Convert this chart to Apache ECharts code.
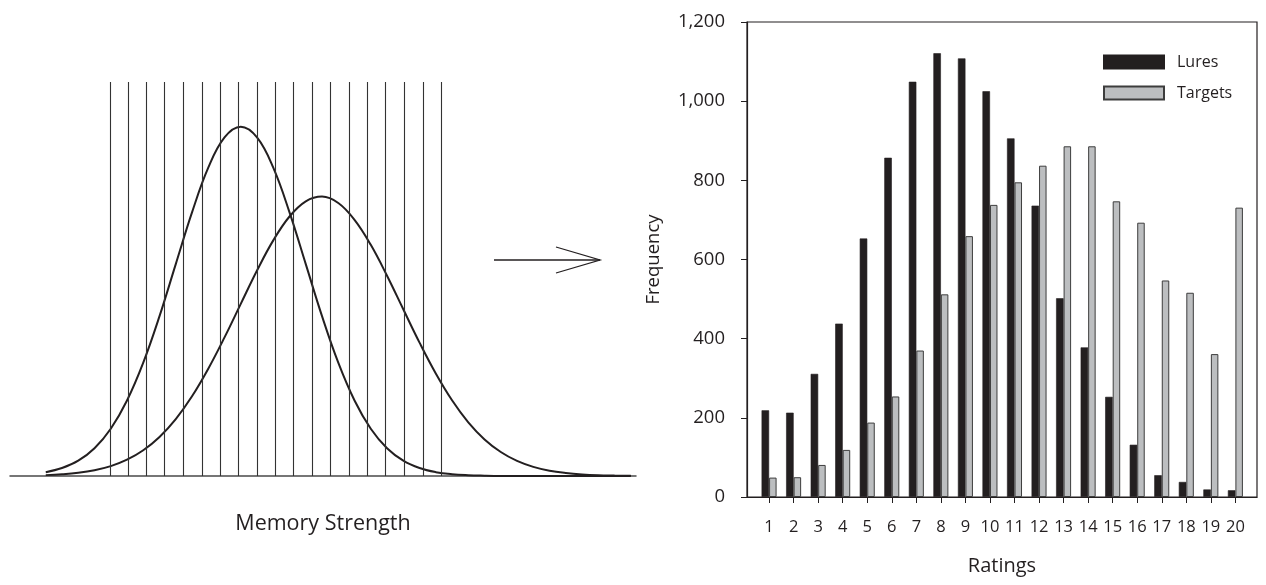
<!DOCTYPE html>
<html>
<head>
<meta charset="utf-8">
<title>Memory Strength / Ratings</title>
<script src="https://cdn.jsdelivr.net/npm/echarts@6/dist/echarts.min.js"></script>
<style>
  html, body { margin: 0; padding: 0; background: #fff; }
  #chart { width: 1266px; height: 585px; }
</style>
</head>
<body>
<div id="chart"></div>
<script>
// left panel: strength axis (z units) and the two density curves
const strength = [-3, -2.75, -2.5, -2.25, -2, -1.75, -1.5, -1.25, -1, -0.75, -0.5, -0.25, 0,
  0.25, 0.5, 0.75, 1, 1.25, 1.5, 1.75, 2, 2.25, 2.5, 2.75, 3, 3.25, 3.5, 3.75, 4,
  4.25, 4.5, 4.75, 5, 5.25, 5.5, 5.75, 6];
const lureDensity = [0.0044, 0.0091, 0.0175, 0.0317, 0.054, 0.0863, 0.1295, 0.1826, 0.242, 0.3011,
  0.3521, 0.3867, 0.3989, 0.3867, 0.3521, 0.3011, 0.242, 0.1826, 0.1295, 0.0863, 0.054, 0.0317,
  0.0175, 0.0091, 0.0044, 0.002, 0.0009, 0.0004, 0.0001, 0.00005, 0, 0, 0, 0, 0, 0, 0];
const targetDensity = [0.001, 0.002, 0.0037, 0.0066, 0.0113, 0.0186, 0.0294, 0.0446, 0.065, 0.091,
  0.1225, 0.1583, 0.1966, 0.2347, 0.2691, 0.2964, 0.3137, 0.3191, 0.3118, 0.2926, 0.264, 0.2287,
  0.1904, 0.1523, 0.1171, 0.0865, 0.0613, 0.0418, 0.0274, 0.0172, 0.0104, 0.006, 0.0034, 0.0018,
  0.0009, 0.0005, 0.0002];
const criteria = [-2.01, -1.73, -1.45, -1.17, -0.89, -0.6, -0.32, -0.04, 0.25, 0.53, 0.81,
  1.1, 1.38, 1.67, 1.95, 2.23, 2.51, 2.8, 3.09];

// right panel: rating frequencies
const ratings = [1, 2, 3, 4, 5, 6, 7, 8, 9, 10, 11, 12, 13, 14, 15, 16, 17, 18, 19, 20];
const lures = [219, 213, 311, 438, 653, 857, 1049, 1121, 1108, 1025, 906, 736, 502, 378, 253, 132, 55, 38, 19, 17];
const targets = [49, 50, 81, 119, 188, 254, 370, 512, 659, 738, 795, 837, 886, 886, 747, 693, 547, 516, 361, 731];

const font = "'Open Sans', 'Noto Sans', sans-serif";
const ink = "#231f20";

const chart = echarts.init(document.getElementById("chart"));

const option = {
  animation: false,
  backgroundColor: "#fff",
  textStyle: { fontFamily: font, color: ink },
  grid: [
    { left: 10, right: 630, top: 82, bottom: 109 },
    { left: 747, right: 9, top: 22, bottom: 88, show: true, borderColor: ink, borderWidth: 1.2 },
  ],
  legend: {
    data: ["Lures", "Targets"],
    orient: "vertical",
    left: 1098,
    top: 49,
    icon: "rect",
    itemWidth: 60,
    itemHeight: 13,
    itemGap: 15,
    textStyle: { fontFamily: font, fontSize: 16, color: ink, padding: [0, 0, 0, 8] },
  },
  xAxis: [
    {
      gridIndex: 0,
      type: "value",
      min: -3.55,
      max: 6.08,
      axisLine: { lineStyle: { color: "#4a4a4a", width: 1.5 } },
      axisTick: { show: false },
      axisLabel: { show: false },
      splitLine: { show: false },
      name: "Memory Strength",
      nameLocation: "middle",
      nameGap: 37,
      nameTextStyle: { fontFamily: font, fontSize: 21.5, color: ink },
    },
    {
      gridIndex: 1,
      type: "value",
      min: 0.1,
      max: 20.88,
      axisLine: { onZero: false, lineStyle: { color: ink, width: 1.2 } },
      axisTick: { customValues: ratings, length: 6, lineStyle: { color: ink, width: 1 } },
      axisLabel: { customValues: ratings, margin: 22, fontSize: 16.5, color: ink, fontFamily: font },
      splitLine: { show: false },
      name: "Ratings",
      nameLocation: "middle",
      nameGap: 59,
      nameTextStyle: { fontFamily: font, fontSize: 20, color: ink },
    },
  ],
  yAxis: [
    {
      gridIndex: 0,
      type: "value",
      min: 0,
      max: 0.45,
      show: false,
    },
    {
      gridIndex: 1,
      type: "value",
      min: 0,
      max: 1200,
      interval: 200,
      axisLine: { show: true, lineStyle: { color: ink, width: 1.2 } },
      axisTick: { show: true, length: 6, lineStyle: { color: ink, width: 1 } },
      axisLabel: {
        margin: 22,
        fontSize: 18.5,
        color: ink,
        fontFamily: font,
        formatter: (v) => v.toLocaleString("en-US"),
      },
      splitLine: { show: false },
      name: "Frequency",
      nameLocation: "middle",
      nameRotate: 90,
      nameGap: 84,
      nameTextStyle: { fontFamily: font, fontSize: 18.5, color: ink },
    },
  ],
  series: [
    {
      name: "lure distribution",
      type: "line",
      xAxisIndex: 0,
      yAxisIndex: 0,
      data: strength.map((x, i) => [x, lureDensity[i]]),
      smooth: 0.4,
      showSymbol: false,
      lineStyle: { color: ink, width: 2 },
      z: 3,
      markLine: {
        silent: true,
        symbol: ["none", "none"],
        label: { show: false },
        lineStyle: { color: "#333", width: 1.1, type: "solid" },
        data: criteria.map((c) => ({ xAxis: c })),
      },
    },
    {
      name: "target distribution",
      type: "line",
      xAxisIndex: 0,
      yAxisIndex: 0,
      data: strength.map((x, i) => [x, targetDensity[i]]),
      smooth: 0.4,
      showSymbol: false,
      lineStyle: { color: ink, width: 2 },
      z: 3,
    },
    {
      name: "Lures",
      type: "bar",
      xAxisIndex: 1,
      yAxisIndex: 1,
      data: ratings.map((r, i) => [r, lures[i]]),
      barWidth: 7.5,
      barGap: "0%",
      itemStyle: { color: ink, borderColor: ink, borderWidth: 0.6 },
    },
    {
      name: "Targets",
      type: "bar",
      xAxisIndex: 1,
      yAxisIndex: 1,
      data: ratings.map((r, i) => [r, targets[i]]),
      barWidth: 7.5,
      barGap: "0%",
      itemStyle: { color: "#bcbec0", borderColor: "#3d3d3d", borderWidth: 1 },
    },
  ],
  graphic: [
    {
      type: "line",
      shape: { x1: 494, y1: 260, x2: 600, y2: 260 },
      style: { stroke: ink, lineWidth: 1.3 },
    },
    {
      type: "polyline",
      shape: { points: [[556, 247], [600, 260], [556, 273]] },
      style: { stroke: ink, lineWidth: 1.3, fill: null },
    },
  ],
};

chart.setOption(option);
</script>
</body>
</html>
